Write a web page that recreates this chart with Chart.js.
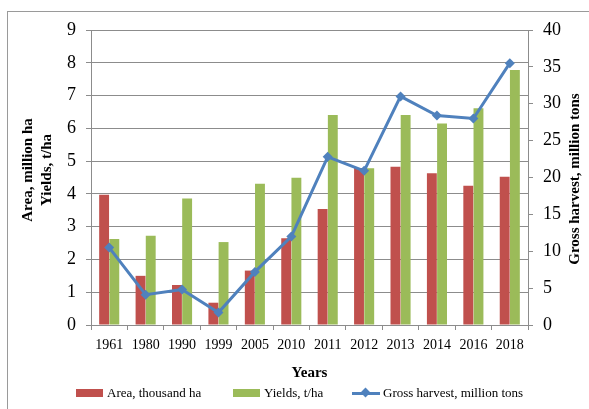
<!DOCTYPE html>
<html>
<head>
<meta charset="utf-8">
<script src="https://cdn.jsdelivr.net/npm/chart.js@4/dist/chart.umd.min.js"></script>
<style>
  html, body { margin: 0; padding: 0; background: #fff; }
  #wrap { position: relative; width: 589px; height: 409px; overflow: hidden; font-family: "Liberation Serif", "Times New Roman", serif; }
  #frame { position: absolute; left: 7px; top: 11px; width: 700px; height: 500px; border-left: 1px solid #9a9a9a; border-top: 1px solid #9a9a9a; }
  canvas { position: absolute; left: 0; top: 0; }
  .lg { position: absolute; font-size: 13px; color: #000; line-height: 14px; white-space: nowrap; }
  .sw { position: absolute; }
</style>
</head>
<body>
<div id="wrap">
  <div id="frame"></div>
  <canvas id="c" width="589" height="409"></canvas>
  <div class="sw" style="left:76px;top:389px;width:27px;height:8px;background:#C0504D"></div>
  <div class="lg" style="left:107px;top:386px">Area, thousand ha</div>
  <div class="sw" style="left:233px;top:389px;width:27px;height:8px;background:#9BBB59"></div>
  <div class="lg" style="left:264px;top:386px">Yields, t/ha</div>
  <div class="sw" style="left:352px;top:391.5px;width:28px;height:3px;background:#4F81BD"></div>
  <div class="sw" style="left:362px;top:389px;width:7px;height:7px;background:#4F81BD;transform:rotate(45deg)"></div>
  <div class="lg" style="left:383px;top:386px">Gross harvest, million tons</div>
</div>
<script>
const years = ['1961', '1980', '1990', '1999', '2005', '2010', '2011', '2012', '2013', '2014', '2016', '2018'];
const areaValues = [3.97, 1.50, 1.22, 0.68, 1.66, 2.65, 3.54, 4.79, 4.83, 4.63, 4.25, 4.52];
const yieldValues = [2.62, 2.72, 3.86, 2.53, 4.31, 4.49, 6.41, 4.78, 6.41, 6.15, 6.61, 7.78];
const harvestValues = [10.5, 4.1, 4.8, 1.7, 7.2, 12.0, 22.8, 20.9, 31.0, 28.4, 28.0, 35.5];
const leftTicks = [0, 1, 2, 3, 4, 5, 6, 7, 8, 9];
const rightTicks = [0, 5, 10, 15, 20, 25, 30, 35, 40];

const serif = '"Liberation Serif", "Times New Roman", serif';
const gridGray = '#8c8c8c';

// Axis titles drawn around the plot area
const axisTitles = {
  id: 'axisTitles',
  afterDraw(chart) {
    const ctx = chart.ctx;
    const area = chart.chartArea;
    ctx.save();
    ctx.fillStyle = '#000';
    ctx.textAlign = 'center';
    ctx.textBaseline = 'middle';
    ctx.font = 'bold 15px ' + serif;
    ctx.fillText('Years', (area.left + area.right) / 2, 373);

    const midY = 170;
    ctx.save();
    ctx.translate(28, midY);
    ctx.rotate(-Math.PI / 2);
    ctx.fillText('Area, million ha', 0, 0);
    ctx.restore();
    ctx.save();
    ctx.translate(47, midY);
    ctx.rotate(-Math.PI / 2);
    ctx.fillText('Yields, t/ha', 0, 0);
    ctx.restore();
    ctx.save();
    ctx.translate(575, 179);
    ctx.rotate(-Math.PI / 2);
    ctx.fillText('Gross harvest, million tons', 0, 0);
    ctx.restore();
    ctx.restore();
  }
};

new Chart(document.getElementById('c'), {
  type: 'bar',
  data: {
    labels: years,
    datasets: [
      {
        type: 'line',
        label: 'Gross harvest, million tons',
        data: harvestValues,
        yAxisID: 'y1',
        borderColor: '#4F81BD',
        backgroundColor: '#4F81BD',
        borderWidth: 3,
        pointStyle: 'rectRot',
        pointRadius: 5,
        pointBorderWidth: 0,
        tension: 0,
        order: 0
      },
      {
        label: 'Area, thousand ha',
        data: areaValues,
        yAxisID: 'y',
        backgroundColor: '#C0504D',
        categoryPercentage: 0.56,
        barPercentage: 0.97,
        order: 1
      },
      {
        label: 'Yields, t/ha',
        data: yieldValues,
        yAxisID: 'y',
        backgroundColor: '#9BBB59',
        categoryPercentage: 0.56,
        barPercentage: 0.97,
        order: 1
      }
    ]
  },
  options: {
    responsive: false,
    animation: false,
    layout: { padding: { top: 30, left: 0, right: 0, bottom: 0 } },
    plugins: { legend: { display: false }, tooltip: { enabled: false } },
    scales: {
      x: {
        offset: true,
        grid: { offset: true, drawOnChartArea: false, drawTicks: true, tickLength: 5, color: gridGray },
        border: { display: true, color: gridGray },
        ticks: { color: '#000', font: { family: serif, size: 14 }, padding: 7, maxRotation: 0, autoSkip: false },
        afterFit(s) { s.height = 84; }
      },
      y: {
        position: 'left',
        min: 0, max: 9,
        afterBuildTicks(s) { s.ticks = leftTicks.map(v => ({ value: v })); },
        grid: { color: gridGray, tickLength: 5 },
        border: { display: true, color: gridGray },
        ticks: { color: '#000', font: { family: serif, size: 18 }, padding: 10 },
        afterFit(s) { s.width = 91; }
      },
      y1: {
        position: 'right',
        min: 0, max: 40,
        afterBuildTicks(s) { s.ticks = rightTicks.map(v => ({ value: v })); },
        grid: { drawOnChartArea: false, color: gridGray, tickLength: 5 },
        border: { display: true, color: gridGray },
        ticks: { color: '#000', font: { family: serif, size: 18 }, padding: 10 },
        afterFit(s) { s.width = 61; }
      }
    }
  },
  plugins: [axisTitles]
});
</script>
</body>
</html>
